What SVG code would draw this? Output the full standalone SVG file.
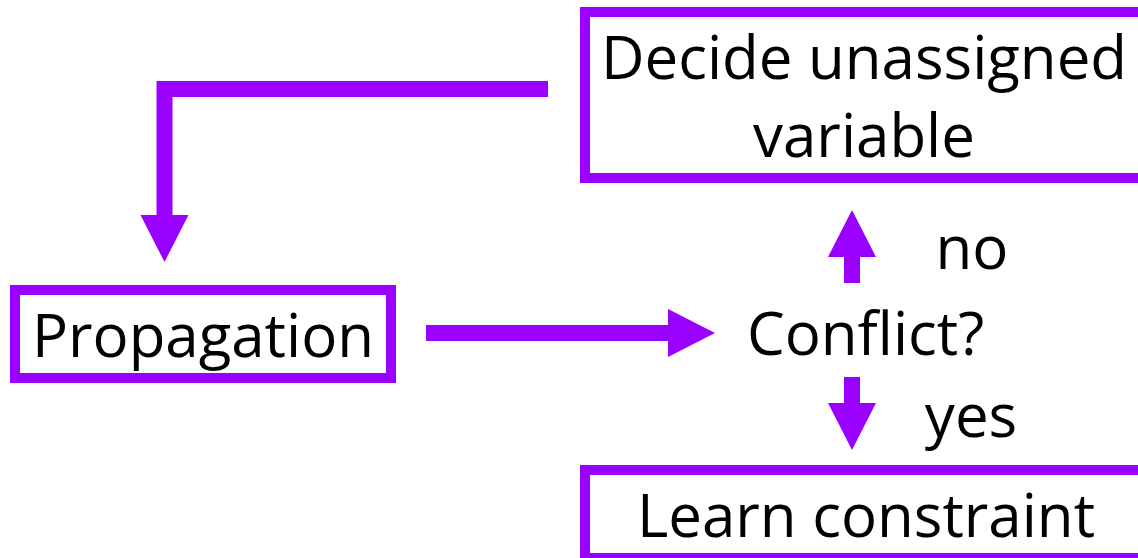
<svg xmlns="http://www.w3.org/2000/svg" width="1138" height="558" viewBox="0 0 1138 558">
  <style>
    .box { fill: #ffffff; stroke: #9900ff; stroke-width: 10; }
    .lbl { font-family: "Open Sans", "Noto Sans", "Liberation Sans", sans-serif; font-size: 60px; fill: #000000; text-anchor: middle; }
    .conn { fill: none; stroke: #9900ff; stroke-width: 16; stroke-linecap: butt; stroke-linejoin: miter; marker-end: url(#head); }
  </style>
  <defs>
    <marker id="head" markerUnits="userSpaceOnUse" markerWidth="48" markerHeight="48" refX="0" refY="24" orient="auto" viewBox="0 0 48 48" overflow="visible">
      <path d="M0,0 L47,24 L0,48 Z" fill="#9900ff"/>
    </marker>
  </defs>
  <rect width="1138" height="558" fill="#ffffff"/>
  <g id="connectors">
    <path class="conn" d="M548,89 H164.5 V215"/>
    <path class="conn" d="M426,333 H668"/>
    <path class="conn" d="M852,283 V257"/>
    <path class="conn" d="M852,377 V403"/>
  </g>
  <g id="node-decide">
    <rect class="box" x="585" y="12" width="565" height="166"/>
    <text class="lbl" x="864" y="79">Decide unassigned</text>
    <text class="lbl" x="864" y="157">variable</text>
  </g>
  <g id="node-propagation">
    <rect class="box" x="15" y="290" width="376" height="88"/>
    <text class="lbl" x="203" y="357">Propagation</text>
  </g>
  <g id="node-conflict">
    <text class="lbl" x="865.5" y="355">Conflict?</text>
  </g>
  <g id="node-learn">
    <rect class="box" x="585" y="470" width="565" height="88"/>
    <text class="lbl" x="866" y="537">Learn constraint</text>
  </g>
  <g id="edge-labels">
    <text class="lbl" x="972" y="269">no</text>
    <text class="lbl" x="971" y="437">yes</text>
  </g>
</svg>
